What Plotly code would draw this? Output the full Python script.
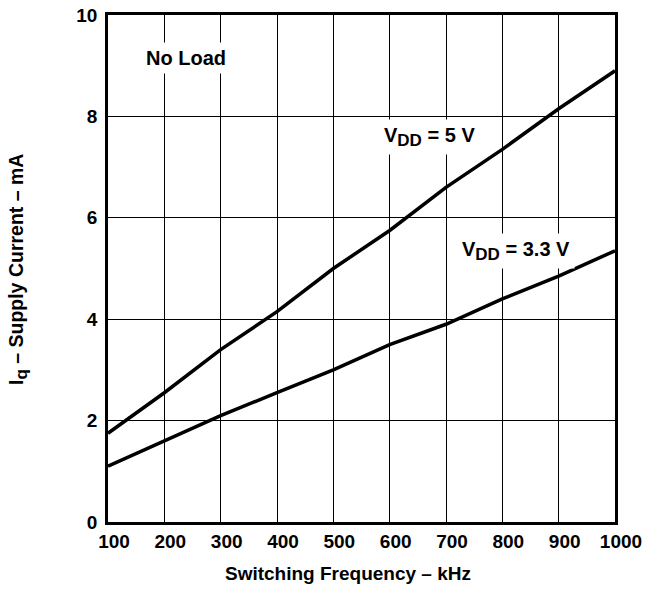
import plotly.graph_objects as go

freq_khz = [100, 200, 300, 400, 500, 600, 700, 800, 900, 1000]
iq_vdd5 = [1.75, 2.55, 3.4, 4.15, 5.0, 5.75, 6.6, 7.35, 8.15, 8.9]
iq_vdd33 = [1.1, 1.6, 2.1, 2.55, 3.0, 3.5, 3.9, 4.4, 4.85, 5.35]
x_ticks = [100, 200, 300, 400, 500, 600, 700, 800, 900, 1000]
y_ticks = [0, 2, 4, 6, 8, 10]

FONT = "Liberation Sans, Arial, sans-serif"

fig = go.Figure()
fig.add_trace(go.Scatter(x=freq_khz, y=iq_vdd5, mode="lines",
                         line=dict(color="black", width=3.5), name="VDD = 5 V"))
fig.add_trace(go.Scatter(x=freq_khz, y=iq_vdd33, mode="lines",
                         line=dict(color="black", width=3.5), name="VDD = 3.3 V"))

fig.update_xaxes(range=[100, 1000], tickvals=x_ticks, ticktext=[str(v) for v in x_ticks],
                 showgrid=True, gridcolor="black", gridwidth=1,
                 showline=True, linecolor="black", linewidth=2.5, mirror=True,
                 ticks="", zeroline=False, ticklabelshift=6, automargin=False,
                 tickfont=dict(family=FONT, size=19, color="black", weight="bold"))
fig.update_yaxes(range=[0, 10], tickvals=y_ticks, ticktext=[str(v) for v in y_ticks],
                 showgrid=True, gridcolor="black", gridwidth=1,
                 showline=True, linecolor="black", linewidth=2.5, mirror=True,
                 ticks="", zeroline=False, automargin=False, ticklabelstandoff=4,
                 tickfont=dict(family=FONT, size=19, color="black", weight="bold"))

title_font = dict(family=FONT, size=19, color="black")
fig.add_annotation(xref="paper", yref="paper", x=0.473, y=-0.1006,
                   xanchor="center", yanchor="middle", showarrow=False,
                   text="<b>Switching Frequency – kHz</b>", font=title_font)
fig.add_annotation(xref="paper", yref="paper", x=-0.1775, y=0.497,
                   xanchor="center", yanchor="middle", showarrow=False, textangle=-90,
                   text="<b>I<sub><span style='font-size:17px'>q</span></sub> – Supply Current – mA</b>",
                   font=dict(family=FONT, size=19.5, color="black"))

ann_font = dict(family=FONT, size=20, color="black")
fig.add_annotation(x=238, y=9.15, text="<b>No Load</b>", showarrow=False,
                   font=ann_font, bgcolor="white", borderpad=4)
fig.add_annotation(x=671, y=7.6,
                   text="<b>V<sub><span style='font-size:17px'>DD</span></sub> = 5 V</b>",
                   showarrow=False, font=ann_font, bgcolor="white", borderpad=4)
fig.add_annotation(x=824, y=5.35,
                   text="<b>V<sub><span style='font-size:17px'>DD</span></sub> = 3.3 V</b>",
                   showarrow=False, font=ann_font, bgcolor="white", borderpad=4)

fig.update_layout(width=660, height=590, showlegend=False,
                  plot_bgcolor="white", paper_bgcolor="white",
                  margin=dict(l=108, r=45, t=15, b=68),
                  font=dict(family=FONT))

fig.write_html("out.html", config={"displayModeBar": False},
               post_script="document.body.style.margin='0px';")
